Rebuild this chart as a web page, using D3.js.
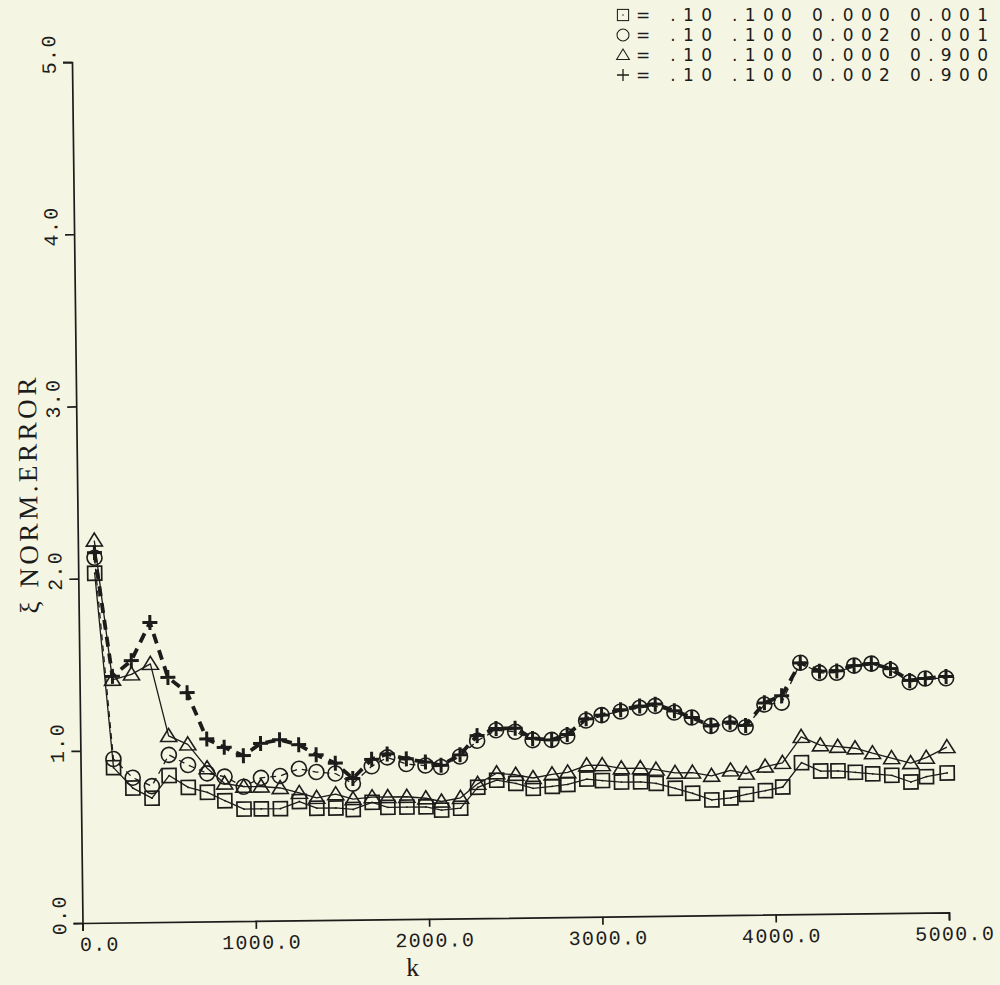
<!DOCTYPE html>
<html>
<head>
<meta charset="utf-8">
<script src="https://cdn.jsdelivr.net/npm/d3@7"></script>
<style>
  html, body { margin: 0; padding: 0; background: #f5f5e4; }
  svg { display: block; }
</style>
</head>
<body>
<svg id="chart" width="1000" height="985"></svg>
<script>
// Iteration index k at which the normalized error was sampled
const kSteps = [95, 190, 300, 410, 510, 620, 730, 830, 940, 1040,
  1150, 1260, 1360, 1470, 1570, 1680, 1770, 1880, 1990, 2080,
  2190, 2290, 2400, 2510, 2610, 2720, 2810, 2920, 3010, 3120,
  3230, 3320, 3430, 3530, 3640, 3750, 3840, 3950, 4050, 4160,
  4270, 4370, 4470, 4570, 4680, 4790, 4880, 5000];

// Normalized error for each parameter set
const errSquare = [2.03, 0.90, 0.78, 0.72, 0.85, 0.78, 0.75, 0.70, 0.65, 0.65,
  0.65, 0.69, 0.65, 0.65, 0.64, 0.68, 0.65, 0.65, 0.65, 0.63,
  0.64, 0.76, 0.80, 0.78, 0.75, 0.76, 0.77, 0.80, 0.79, 0.78,
  0.78, 0.77, 0.74, 0.71, 0.67, 0.68, 0.70, 0.72, 0.74, 0.88,
  0.83, 0.83, 0.82, 0.81, 0.80, 0.76, 0.79, 0.81];

const errCircle = [2.12, 0.95, 0.84, 0.79, 0.97, 0.91, 0.86, 0.84, 0.78, 0.83,
  0.84, 0.88, 0.86, 0.85, 0.79, 0.89, 0.94, 0.90, 0.89, 0.88,
  0.94, 1.03, 1.09, 1.08, 1.03, 1.03, 1.05, 1.14, 1.17, 1.19,
  1.21, 1.22, 1.18, 1.15, 1.10, 1.11, 1.09, 1.22, 1.23, 1.46,
  1.40, 1.40, 1.44, 1.45, 1.41, 1.34, 1.36, 1.36];

const errTriangle = [2.22, 1.41, 1.44, 1.50, 1.08, 1.03, 0.89, 0.80, 0.78, 0.78,
  0.77, 0.74, 0.71, 0.73, 0.70, 0.71, 0.71, 0.71, 0.70, 0.68,
  0.70, 0.78, 0.84, 0.83, 0.81, 0.83, 0.84, 0.88, 0.88, 0.86,
  0.86, 0.85, 0.83, 0.83, 0.81, 0.84, 0.82, 0.86, 0.88, 1.03,
  0.98, 0.97, 0.96, 0.93, 0.90, 0.87, 0.90, 0.96];

const errPlus = [2.15, 1.43, 1.52, 1.74, 1.42, 1.33, 1.06, 1.01, 0.96, 1.03,
  1.05, 1.02, 0.96, 0.91, 0.82, 0.93, 0.96, 0.93, 0.91, 0.89,
  0.95, 1.06, 1.10, 1.10, 1.04, 1.03, 1.06, 1.15, 1.17, 1.20,
  1.22, 1.23, 1.19, 1.15, 1.10, 1.12, 1.10, 1.23, 1.27, 1.46,
  1.41, 1.41, 1.44, 1.45, 1.42, 1.35, 1.36, 1.37];

const xTicks = [0, 1000, 2000, 3000, 4000, 5000];
const xTickLabels = ["0.0", "1000.0", "2000.0", "3000.0", "4000.0", "5000.0"];
const yTicks = [0, 1, 2, 3, 4, 5];
const yTickLabels = ["0.0", "1.0", "2.0", "3.0", "4.0", "5.0"];

const legendSymbols = ["square", "circle", "triangle", "plus"];
const legendLabels = [
  "= .10 .100 0.000 0.001",
  "= .10 .100 0.002 0.001",
  "= .10 .100 0.000 0.900",
  "= .10 .100 0.002 0.900"
];

const ink = "#1c1c1a";
const svg = d3.select("#chart");

const x = d3.scaleLinear().domain([0, 5000]).range([82.5, 949]);
const y = d3.scaleLinear().domain([0, 5]).range([923, 62]);

// The whole plotted frame sits at a slight counter-clockwise tilt
const plot = svg.append("g")
  .attr("transform", `rotate(-0.7, ${x(0)}, ${y(0)})`);

// Axes
const yAxis = plot.append("g")
  .attr("transform", `translate(${x(0)},0)`)
  .call(d3.axisLeft(y).tickValues(yTicks).tickSize(9).tickFormat(""));
const xAxis = plot.append("g")
  .attr("transform", `translate(0,${y(0)})`)
  .call(d3.axisBottom(x).tickValues(xTicks).tickSize(8).tickFormat(""));
[yAxis, xAxis].forEach(a => {
  a.selectAll("path, line").attr("stroke", ink).attr("stroke-width", 1.7);
});

const tickFont = "'Liberation Mono', 'DejaVu Sans Mono', monospace";

plot.append("g").selectAll("text")
  .data(xTicks)
  .join("text")
  .attr("x", (d, i) => x(d) + (i === 0 ? 17 : 6))
  .attr("y", y(0) + 28)
  .attr("text-anchor", "middle")
  .attr("font-family", tickFont)
  .attr("font-size", 20)
  .attr("letter-spacing", 1.3)
  .attr("fill", ink)
  .text((d, i) => xTickLabels[i]);

plot.append("g").selectAll("text")
  .data(yTicks)
  .join("text")
  .attr("transform", d => `translate(59,${y(d) - 8}) rotate(-90)`)
  .attr("dy", "0.35em")
  .attr("text-anchor", "middle")
  .attr("font-family", tickFont)
  .attr("font-size", 20)
  .attr("letter-spacing", 1.3)
  .attr("fill", ink)
  .text((d, i) => yTickLabels[i]);

// Axis titles
plot.append("text")
  .attr("transform", "translate(33,495) rotate(-90)")
  .attr("dy", "0.35em")
  .attr("text-anchor", "middle")
  .attr("font-family", "'Liberation Serif', 'DejaVu Serif', serif")
  .attr("font-size", 27)
  .attr("textLength", 236)
  .attr("lengthAdjust", "spacing")
  .attr("fill", ink)
  .text("ξ NORM.ERROR");

plot.append("text")
  .attr("x", 412)
  .attr("y", 980)
  .attr("text-anchor", "middle")
  .attr("font-family", "'Liberation Serif', 'DejaVu Serif', serif")
  .attr("font-size", 26)
  .attr("fill", ink)
  .text("k");

// Marker drawing
function drawMarker(sel, kind) {
  if (kind === "square") {
    sel.append("rect").attr("x", -7).attr("y", -7).attr("width", 14).attr("height", 14)
      .attr("fill", "none").attr("stroke", ink).attr("stroke-width", 1.7);
    sel.append("circle").attr("r", 0.9).attr("fill", ink);
  } else if (kind === "circle") {
    sel.append("circle").attr("r", 7.5)
      .attr("fill", "none").attr("stroke", ink).attr("stroke-width", 1.6);
  } else if (kind === "triangle") {
    sel.append("path").attr("d", "M0,-7.5L8,5.5L-8,5.5Z")
      .attr("fill", "none").attr("stroke", ink).attr("stroke-width", 1.6);
  } else {
    sel.append("path").attr("d", "M-7.5,0H7.5M0,-7.5V7.5")
      .attr("fill", "none").attr("stroke", ink).attr("stroke-width", 3);
  }
}

const series = [
  { kind: "square", values: errSquare, width: 1.3, dash: null },
  { kind: "triangle", values: errTriangle, width: 1.3, dash: null },
  { kind: "circle", values: errCircle, width: 1.3, dash: "6,5" },
  { kind: "plus", values: errPlus, width: 3.8, dash: "10,7" }
];

const line = d3.line().x(d => x(d[0])).y(d => y(d[1]));

series.forEach(s => {
  const pts = kSteps.map((k, i) => [k, s.values[i]]);
  plot.append("path")
    .datum(pts)
    .attr("d", line)
    .attr("fill", "none")
    .attr("stroke", ink)
    .attr("stroke-width", s.width)
    .attr("stroke-dasharray", s.dash)
    .attr("stroke-linejoin", "round");
});

series.forEach(s => {
  const pts = kSteps.map((k, i) => [k, s.values[i]]);
  plot.append("g").selectAll("g")
    .data(pts)
    .join("g")
    .attr("transform", d => `translate(${x(d[0])},${y(d[1])})`)
    .each(function () { drawMarker(d3.select(this), s.kind); });
});

// Legend
const legend = svg.append("g");
legendSymbols.forEach((kind, i) => {
  const cy = 15 + i * 20;
  const sym = legend.append("g").attr("transform", `translate(623,${cy}) scale(0.8)`);
  drawMarker(sym, kind);
  sym.selectAll("*").attr("stroke-width", kind === "plus" ? 1.6 : 1.3);
  legend.append("text")
    .attr("x", 636)
    .attr("y", cy + 6)
    .attr("font-family", "'DejaVu Sans', sans-serif")
    .attr("font-size", 17)
    .attr("textLength", 352)
    .attr("lengthAdjust", "spacing")
    .attr("fill", ink)
    .text(legendLabels[i]);
});
</script>
</body>
</html>
